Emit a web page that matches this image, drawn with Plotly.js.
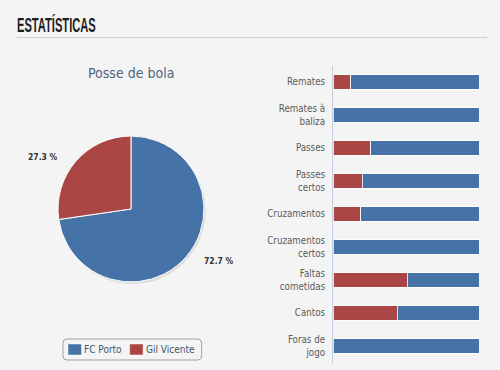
<!DOCTYPE html>
<html>
<head>
<meta charset="utf-8">
<script src="https://cdn.plot.ly/plotly-3.0.1.min.js"></script>
<style>
  html, body { margin:0; padding:0; background:#f4f4f4; width:500px; height:370px; overflow:hidden; }
  #chart { position:absolute; left:0; top:0; width:500px; height:370px; }
  #heading { position:absolute; left:17px; top:14px; font-family:"Liberation Sans",Arial,sans-serif;
    font-weight:bold; font-size:21px; line-height:22px; color:#1e1e1e; transform:scaleX(0.53); transform-origin:left top; z-index:2; white-space:nowrap; }
  #rule { position:absolute; left:17px; top:37px; width:470px; height:1px; background:#cfcfcf; z-index:2; }
</style>
</head>
<body>
<div id="chart"></div>
<div id="heading">ESTATÍSTICAS</div>
<div id="rule"></div>
<script>
// ---- data ----
const teams = ['FC Porto', 'Gil Vicente'];
const possession = [72.7, 27.3];
const categories = ['Remates', 'Remates à<br>baliza', 'Passes', 'Passes<br>certos', 'Cruzamentos',
                    'Cruzamentos<br>certos', 'Faltas<br>cometidas', 'Cantos', 'Foras de<br>jogo'];
const portoShare = [88, 100, 74, 80, 81, 100, 49, 56, 100];
const gilShare   = [12,   0, 26, 20, 19,   0, 51, 44,   0];
const teamColors = ['#4572A7', '#AA4643'];

// ---- geometry ----
const FONT = '"DejaVu Sans Condensed", "DejaVu Sans", sans-serif';
const W = 500, H = 370;
const cx = 131, cy = 209, r = 73;
const px = v => v / W;
const py = v => 1 - v / H;

const pieDomain = {x: [px(cx - r), px(cx + r)], y: [py(cy + r), py(cy - r)]};
const shadowDomain = {x: [px(cx - r + 1.5), px(cx + r + 1.5)], y: [py(cy + r + 2), py(cy - r + 2)]};

const total = possession.reduce((a, b) => a + b, 0);

const traces = [
  {
    type: 'pie', values: [total], labels: ['shadow'], domain: shadowDomain,
    marker: {colors: ['rgba(0,0,0,0.10)'], line: {width: 0}}, textinfo: 'none',
    hoverinfo: 'skip', showlegend: false, sort: false
  },
  {
    type: 'pie', values: possession, labels: teams, domain: pieDomain,
    marker: {colors: teamColors, line: {color: '#ffffff', width: 1}},
    textinfo: 'none', sort: false, direction: 'clockwise', rotation: 0,
    hoverinfo: 'label+percent', showlegend: false
  },
  {
    type: 'bar', orientation: 'h', y: categories, x: gilShare, name: teams[1],
    marker: {color: teamColors[1], line: {color: 'rgba(255,255,255,0.8)', width: 1}},
    xaxis: 'x', yaxis: 'y', showlegend: false, width: 0.45
  },
  {
    type: 'bar', orientation: 'h', y: categories, x: portoShare, name: teams[0],
    marker: {color: teamColors[0], line: {color: 'rgba(255,255,255,0.8)', width: 1}},
    xaxis: 'x', yaxis: 'y', showlegend: false, width: 0.45
  }
];

// percentage labels placed around the slice mid-angles
const annotations = [];
const shapes = [];
let cum = 0;
possession.forEach((v, i) => {
  const mid = (cum + v / 2) / total * 2 * Math.PI; // clockwise from top
  cum += v;
  const dx = Math.sin(mid), dy = -Math.cos(mid);
  const ax = cx + dx * 94, ay = cy + dy * 80;
  annotations.push({
    xref: 'paper', yref: 'paper', x: px(ax), y: py(ay),
    xanchor: dx < 0 ? 'right' : 'left', yanchor: 'middle', showarrow: false,
    text: v.toFixed(1) + ' %',
    font: {family: FONT, size: 8.5, color: '#333333', weight: 'bold'}
  });
});
annotations.push({
  xref: 'paper', yref: 'paper', x: px(cx), y: py(73), xanchor: 'center', yanchor: 'middle',
  showarrow: false, text: 'Posse de bola',
  font: {family: FONT, size: 14, color: '#4d6580'}
});

// ---- legend (built from teams / colours) ----
const ctx = document.createElement('canvas').getContext('2d');
ctx.font = '10px "DejaVu Sans Condensed", "DejaVu Sans", sans-serif';
const legLeft = 63, legTop = 339, legBottom = 360, legMid = (legTop + legBottom) / 2;
let lx = legLeft + 5.5;
teams.forEach((t, i) => {
  shapes.push({type: 'rect', xref: 'paper', yref: 'paper',
    x0: px(lx), x1: px(lx + 12.5), y0: py(legMid + 5), y1: py(legMid - 5),
    fillcolor: teamColors[i], line: {color: teamColors[i], width: 0.5}});
  lx += 12.5 + 4;
  annotations.push({xref: 'paper', yref: 'paper', x: px(lx), y: py(legMid), xanchor: 'left', yanchor: 'middle',
    showarrow: false, text: t, font: {family: FONT, size: 10, color: '#3E576F'}, xshift: -3});
  lx += ctx.measureText(t).width + 7.5;
});
const legRight = lx - 1;
const rr = 4;
shapes.push({type: 'path', xref: 'paper', yref: 'paper',
  path: `M ${px(legLeft + rr)},${py(legTop)} L ${px(legRight - rr)},${py(legTop)} Q ${px(legRight)},${py(legTop)} ${px(legRight)},${py(legTop + rr)} ` +
        `L ${px(legRight)},${py(legBottom - rr)} Q ${px(legRight)},${py(legBottom)} ${px(legRight - rr)},${py(legBottom)} ` +
        `L ${px(legLeft + rr)},${py(legBottom)} Q ${px(legLeft)},${py(legBottom)} ${px(legLeft)},${py(legBottom - rr)} ` +
        `L ${px(legLeft)},${py(legTop + rr)} Q ${px(legLeft)},${py(legTop)} ${px(legLeft + rr)},${py(legTop)} Z`,
  line: {color: '#a0a0a0', width: 1}, fillcolor: 'rgba(0,0,0,0)'});

const layout = {
  width: W, height: H,
  margin: {l: 0, r: 0, t: 0, b: 0},
  paper_bgcolor: 'rgba(0,0,0,0)', plot_bgcolor: 'rgba(0,0,0,0)',
  barmode: 'stack', bargap: 0.55,
  font: {family: FONT},
  xaxis: {domain: [px(333), px(479)], range: [0, 100], showgrid: false, zeroline: false,
          showticklabels: false, showline: false, fixedrange: true},
  yaxis: {domain: [py(362.5), py(65.5)], autorange: 'reversed', type: 'category',
          showgrid: false, zeroline: false, showline: true, linecolor: '#C0D0E0', linewidth: 1,
          ticks: '', ticklabelstandoff: 5,
          tickfont: {family: FONT, size: 9.7, color: '#5a5a5a'}},
  annotations: annotations,
  shapes: shapes,
  showlegend: false
};

Plotly.newPlot('chart', traces, layout, {displayModeBar: false, staticPlot: true});
</script>
</body>
</html>
